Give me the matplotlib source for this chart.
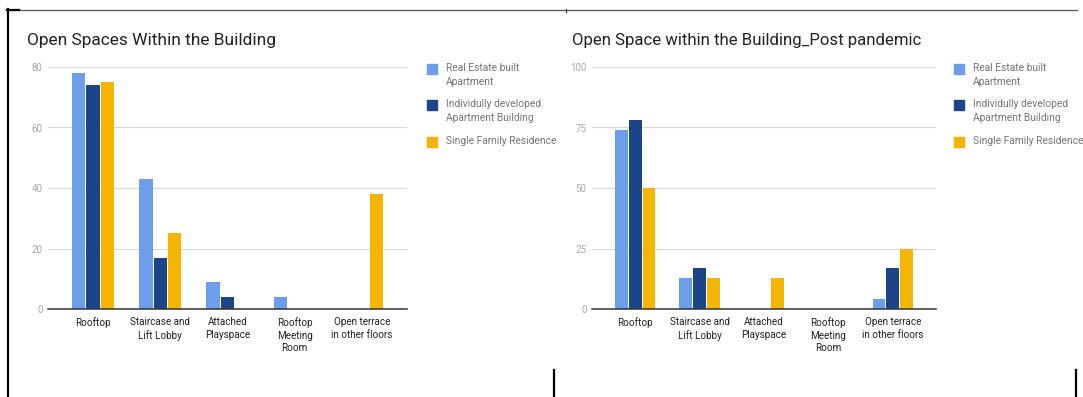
import matplotlib
matplotlib.use("Agg")
import matplotlib.pyplot as plt
import numpy as np
from matplotlib.lines import Line2D
from matplotlib.patches import Rectangle

plt.rcParams["font.family"] = ["Roboto", "DejaVu Sans"]

categories = ["Rooftop", "Staircase and\nLift Lobby", "Attached\nPlayspace",
              "Rooftop\nMeeting\nRoom", "Open terrace\nin other floors"]
series_names = ["Real Estate built\nApartment",
                "Individully developed\nApartment Building",
                "Single Family Residence"]
colors = ["#6d9eeb", "#1c4587", "#f4b400"]

# before pandemic
pre_real_estate = [78, 43, 9, 4, 0]
pre_individual = [74, 17, 4, 0, 0]
pre_single_family = [75, 25, 0, 0, 38]
pre_ticks = [0, 20, 40, 60, 80]

# post pandemic
post_real_estate = [74, 13, 0, 0, 4]
post_individual = [78, 17, 0, 0, 17]
post_single_family = [50, 13, 13, 0, 25]
post_ticks = [0, 25, 50, 75, 100]

W, H = 1083, 397
fig = plt.figure(figsize=(W / 100, H / 100), dpi=100)


def fx(x):
    return x / W


def fy(y):
    return 1 - y / H


def bar_panel(left, right, title, title_x, title_size, data, ticks, legend_x):
    ax = fig.add_axes([fx(left), fy(309), fx(right - left), (309 - 67) / H])
    x = np.arange(len(categories))
    offs = [-0.215, 0, 0.215]
    for vals, off, c in zip(data, offs, colors):
        ax.bar(x + off, vals, width=0.2, color=c, zorder=3)
    ax.set_xlim(-0.67, len(categories) - 0.33)
    ax.set_ylim(ticks[0], ticks[-1])
    ax.set_yticks(ticks)
    ax.set_xticks(x)
    ax.set_xticklabels(categories, fontsize=7.1, color="#222222", linespacing=1.3)
    ax.tick_params(axis="y", length=0, pad=4, labelsize=7, labelcolor="#a8a8a8")
    ax.tick_params(axis="x", length=0, pad=6)
    for s in ["top", "right", "left"]:
        ax.spines[s].set_visible(False)
    ax.spines["bottom"].set_color("#333333")
    ax.spines["bottom"].set_linewidth(1.1)
    ax.spines["bottom"].set_zorder(4)
    ax.yaxis.grid(True, color="#d9d9d9", linewidth=0.8, zorder=0)
    ax.set_axisbelow(True)

    fig.text(fx(title_x), fy(45), title, fontsize=title_size, color="#222222",
             ha="left", va="baseline")

    # legend, one swatch per series, aligned with the first line of text
    tops = [64, 100, 137]
    for name, c, t in zip(series_names, colors, tops):
        fig.patches.append(Rectangle((fx(legend_x), fy(t + 10)), fx(10), 10 / H,
                                     transform=fig.transFigure, color=c,
                                     figure=fig))
        fig.text(fx(legend_x + 19), fy(t - 1), name, fontsize=7.4,
                 color="#757575", ha="left", va="top", linespacing=1.5)
    return ax


bar_panel(48, 407, "Open Spaces Within the Building", 27, 12.5,
          [pre_real_estate, pre_individual, pre_single_family], pre_ticks, 427)
bar_panel(592, 936, "Open Space within the Building_Post pandemic", 572, 12.1,
          [post_real_estate, post_individual, post_single_family], post_ticks, 954)

# page frame lines
frame = [
    ((8, 1077), (9.5, 9.5), "#555555", 0.9),
    ((7, 19), (10, 10), "black", 1.6),
    ((8, 8), (9, 397), "black", 1.6),
    ((566, 566), (9, 12), "#333333", 0.8),
    ((553.5, 553.5), (370, 397), "black", 1.6),
    ((1076, 1076), (370, 397), "black", 1.6),
]
for xs, ys, c, lw in frame:
    fig.lines.append(Line2D([fx(v) for v in xs], [fy(v) for v in ys],
                            transform=fig.transFigure, color=c, linewidth=lw,
                            figure=fig))

fig.savefig("out.png", dpi=100, facecolor="white")
